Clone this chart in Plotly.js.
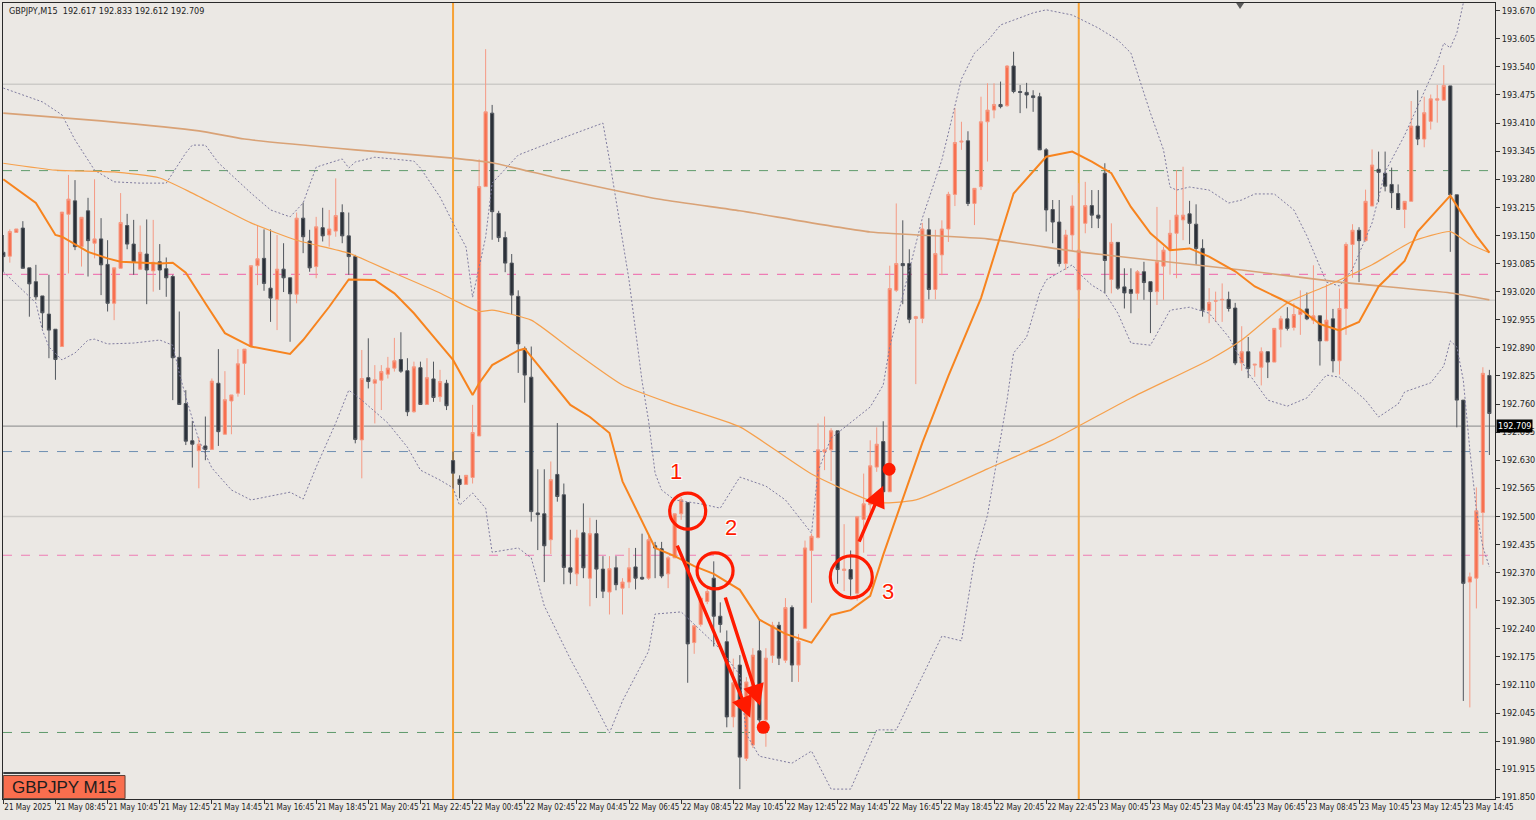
<!DOCTYPE html>
<html><head><meta charset="utf-8">
<script src="https://cdn.plot.ly/plotly-3.0.1.min.js"></script>
<style>html,body{margin:0;padding:0;background:#ebe8e4;overflow:hidden}#chart{width:1536px;height:820px}</style>
</head><body><div id="chart"></div>
<script>
// ---------- DATA ----------
const opens=[193.111,193.102,193.157,193.167,193.075,193.043,193.010,192.968,192.933,192.893,
193.199,193.230,193.124,193.207,193.132,193.142,193.083,192.993,193.074,193.173,
193.130,193.072,193.107,193.068,193.089,193.073,193.055,192.868,192.761,192.675,
192.652,192.663,192.655,192.808,192.690,192.767,192.785,192.854,192.893,193.080,
193.097,193.028,193.002,193.072,193.052,193.014,193.190,193.137,193.078,193.168,
193.151,193.160,193.203,193.149,193.101,192.677,192.821,192.808,192.815,192.829,
192.843,192.863,192.837,192.742,192.844,192.759,192.818,192.777,192.808,192.629,
192.586,192.574,192.590,192.686,193.263,193.433,193.201,193.145,193.086,193.009,
192.888,192.822,192.508,192.506,192.446,192.597,192.550,192.381,192.367,192.462,
192.357,192.460,192.378,192.325,192.381,192.334,192.348,192.383,192.359,192.357,
192.432,192.425,192.367,192.404,192.506,192.532,192.208,192.250,192.303,192.357,
192.269,192.210,192.036,192.156,191.940,191.971,192.189,192.029,192.178,192.248,
192.167,192.289,192.156,192.241,192.421,192.451,192.649,192.654,192.698,192.375,
192.377,192.322,192.493,192.527,192.614,192.673,192.557,193.023,193.085,193.085,
192.958,192.958,193.163,193.025,193.105,193.165,193.245,193.366,193.369,193.224,
193.263,193.413,193.440,193.453,193.450,193.542,193.483,193.481,193.473,193.471,
193.348,193.210,193.181,193.085,193.151,193.024,193.178,193.219,193.197,193.294,
193.048,193.134,193.031,193.025,193.016,193.066,193.043,193.020,193.079,193.116,
193.155,193.186,193.200,193.176,193.120,192.976,192.998,193.001,193.002,192.982,
192.855,192.881,192.850,192.845,192.881,192.857,192.933,192.957,192.937,192.967,
192.980,192.954,192.964,192.906,192.957,192.860,192.981,193.129,193.162,193.138,
193.218,193.303,193.294,193.268,193.247,193.210,193.229,193.403,193.373,193.414,
193.463,193.463,193.496,193.244,192.769,192.348,192.357,192.509,192.826];
const highs=[193.151,193.164,193.165,193.183,193.075,193.082,193.010,193.059,192.933,193.204,
193.290,193.278,193.192,193.237,193.280,193.190,193.139,193.075,193.248,193.200,
193.186,193.173,193.187,193.186,193.130,193.099,193.059,192.974,192.792,192.721,
192.682,192.731,192.819,192.887,192.836,192.781,192.887,192.887,193.080,193.174,
193.164,193.164,193.151,193.132,193.052,193.203,193.226,193.163,193.193,193.214,
193.209,193.282,193.222,193.203,193.105,192.885,192.912,192.850,192.850,192.869,
192.913,192.926,192.866,192.858,192.858,192.866,192.858,192.839,192.816,192.650,
192.595,192.595,192.758,193.326,193.581,193.452,193.207,193.159,193.107,193.023,
192.893,192.893,192.609,192.609,192.627,192.716,192.576,192.469,192.469,192.530,
192.497,192.492,192.408,192.408,192.408,192.357,192.427,192.427,192.460,192.460,
192.441,192.441,192.408,192.506,192.545,192.532,192.247,192.315,192.334,192.396,
192.301,192.236,192.171,192.179,192.128,192.195,192.261,192.195,192.256,192.256,
192.311,192.294,192.228,192.444,192.460,192.715,192.731,192.704,192.698,192.482,
192.421,192.499,192.599,192.676,192.706,192.720,193.080,193.224,193.185,193.118,
192.964,193.179,193.190,193.163,193.185,193.251,193.445,193.413,193.391,193.259,
193.471,193.502,193.502,193.506,193.544,193.575,193.498,193.503,193.486,193.480,
193.352,193.232,193.232,193.163,193.243,193.271,193.274,193.255,193.255,193.317,
193.178,193.134,193.074,193.074,193.070,193.089,193.043,193.216,193.124,193.186,
193.301,193.309,193.230,193.222,193.141,193.028,193.020,193.039,193.020,192.994,
192.940,192.915,192.852,192.891,192.881,192.935,192.964,192.984,192.993,193.023,
193.018,193.081,192.964,193.037,192.980,193.027,193.134,193.176,193.169,193.256,
193.349,193.344,193.344,193.307,193.268,193.229,193.461,193.486,193.471,193.476,
193.498,193.544,193.496,193.244,192.769,192.370,192.567,192.845,192.839];
const lows=[193.066,193.087,193.157,193.074,192.962,193.001,192.935,192.866,192.816,192.893,
193.062,193.116,193.078,193.055,193.097,193.012,192.974,192.954,193.074,193.118,
193.059,193.070,192.991,193.020,193.024,193.008,192.769,192.758,192.665,192.613,
192.565,192.630,192.654,192.663,192.690,192.690,192.777,192.781,192.893,193.035,
193.022,192.950,192.931,193.019,192.904,192.993,193.109,193.066,193.051,193.136,
193.124,193.147,193.132,193.059,192.669,192.588,192.796,192.715,192.746,192.819,
192.835,192.832,192.732,192.740,192.758,192.758,192.765,192.765,192.746,192.565,
192.542,192.573,192.576,192.686,193.263,193.140,193.135,193.065,192.967,192.832,
192.763,192.488,192.422,192.348,192.413,192.534,192.343,192.343,192.339,192.357,
192.292,192.311,192.311,192.273,192.329,192.273,192.334,192.331,192.353,192.353,
192.357,192.357,192.334,192.404,192.492,192.115,192.182,192.245,192.297,192.199,
192.231,192.012,192.012,191.869,191.934,191.964,192.023,191.967,192.161,192.156,
192.161,192.117,192.117,192.239,192.300,192.449,192.607,192.582,192.344,192.327,
192.316,192.305,192.416,192.493,192.603,192.521,192.557,193.019,192.991,192.947,
192.806,192.947,193.002,193.002,193.058,193.135,193.218,193.348,193.218,193.174,
193.255,193.321,193.421,193.444,193.448,193.479,193.433,193.444,193.436,193.348,
193.159,193.132,193.078,193.070,193.116,192.958,193.155,193.167,193.167,193.016,
193.016,193.024,192.981,192.970,193.001,193.001,192.924,192.989,193.001,193.059,
193.051,193.139,193.130,193.082,192.962,192.947,192.950,192.950,192.974,192.850,
192.837,192.820,192.823,192.803,192.820,192.857,192.891,192.930,192.930,192.920,
192.954,192.945,192.849,192.906,192.833,192.828,192.920,193.052,193.042,193.135,
193.218,193.227,193.252,193.213,193.210,193.167,193.229,193.359,193.354,193.395,
193.411,193.463,193.112,192.706,192.073,192.058,192.287,192.388,192.642];
const closes=[193.101,193.159,193.165,193.074,193.038,193.008,192.971,192.931,192.863,193.204,
193.234,193.124,193.192,193.138,193.142,193.082,192.993,193.075,193.180,193.130,
193.089,193.111,193.070,193.088,193.070,193.052,192.867,192.759,192.674,192.667,
192.667,192.655,192.813,192.696,192.770,192.781,192.853,192.887,193.080,193.096,
193.039,193.005,193.072,193.052,193.015,193.190,193.147,193.075,193.170,193.149,
193.165,193.196,193.149,193.101,192.678,192.819,192.812,192.816,192.835,192.843,
192.860,192.836,192.742,192.846,192.759,192.821,192.775,192.812,192.756,192.600,
192.574,192.595,192.694,193.263,193.436,193.205,193.145,193.086,193.012,192.899,
192.827,192.511,192.504,192.432,192.585,192.546,192.382,192.371,192.450,192.381,
192.460,192.378,192.327,192.379,192.342,192.348,192.381,192.357,192.355,192.446,
192.427,192.362,192.404,192.506,192.539,192.205,192.247,192.311,192.326,192.269,
192.250,192.036,192.115,191.943,192.117,192.179,192.029,192.172,192.248,192.172,
192.289,192.156,192.211,192.427,192.454,192.654,192.654,192.698,192.377,192.378,
192.355,192.499,192.529,192.617,192.667,192.557,193.027,193.085,193.080,192.956,
192.962,193.165,193.025,193.108,193.165,193.245,193.365,193.368,193.224,193.259,
193.413,193.440,193.453,193.448,193.542,193.483,193.481,193.475,193.469,193.348,
193.209,193.181,193.085,193.151,193.218,193.116,193.219,193.197,193.190,193.092,
193.134,193.028,193.017,193.016,193.066,193.041,193.020,193.089,193.116,193.155,
193.197,193.197,193.178,193.120,192.977,192.995,192.999,193.002,192.981,192.855,
192.881,192.842,192.852,192.881,192.857,192.935,192.957,192.935,192.967,192.977,
192.957,192.964,192.906,192.954,192.860,192.981,193.129,193.162,193.138,193.229,
193.313,193.296,193.264,193.249,193.210,193.229,193.403,193.373,193.434,193.466,
193.466,193.497,193.244,192.769,192.345,192.360,192.513,192.831,192.738];

// x tick labels (every 8 bars, first bar = 21 May 06:45)
const tickBars=[0,8,16,24,32,40,48,56,64,72,80,88,96,104,112,120,128,136,144,152,160,168,176,184,192,200,208,216,224];
const tickLabels=["21 May 2025","21 May 08:45","21 May 10:45","21 May 12:45","21 May 14:45","21 May 16:45","21 May 18:45","21 May 20:45","21 May 22:45",
"22 May 00:45","22 May 02:45","22 May 04:45","22 May 06:45","22 May 08:45","22 May 10:45","22 May 12:45","22 May 14:45","22 May 16:45","22 May 18:45","22 May 20:45","22 May 22:45",
"23 May 00:45","23 May 02:45","23 May 04:45","23 May 06:45","23 May 08:45","23 May 10:45","23 May 12:45","23 May 14:45"];
const priceTicks=[191.850,191.915,191.980,192.045,192.110,192.175,192.240,192.305,192.370,192.435,192.500,192.565,192.630,192.695,192.760,192.825,192.890,192.955,193.020,193.085,193.150,193.215,193.280,193.345,193.410,193.475,193.540,193.605,193.670];

// moving averages / bands (bar index, price)
const maSlowIdx=[0,15,30,37,54,69,75,85,101,113,133,151,165,176,190,205,222,228];
const maSlowVal=[193.433,193.415,193.392,193.373,193.348,193.329,193.318,193.283,193.233,193.207,193.158,193.142,193.112,193.093,193.070,193.042,193.017,193.001];
const maMidIdx=[0,8,17,24,29,38,45,53,60,67,70,73,75,81,87,95,103,113,124,134,140,151,161,173,185,190,197,203,210,216,222,225,228];
const maMidVal=[193.317,193.301,193.297,193.283,193.248,193.179,193.139,193.109,193.063,193.017,192.994,192.974,192.977,192.954,192.888,192.804,192.758,192.707,192.598,192.532,192.538,192.610,192.677,192.774,192.862,192.908,192.994,193.033,193.082,193.135,193.159,193.130,193.110];
const bbMidIdx=[0,5,8,9,13,16,18,24,26,28,31,34,38,42,44,46,50,53,57,60,63,66,69,72,73,75,79,80,83,87,90,93,95,98,100,103,106,109,113,116,120,124,127,130,133,135,138,141,145,150,155,160,164,167,170,173,176,179,182,185,189,192,196,199,202,205,208,211,215,217,222,226,228];
const bbMidVal=[193.280,193.225,193.151,193.147,193.112,193.097,193.089,193.085,193.087,193.064,192.993,192.924,192.893,192.881,192.876,192.908,192.985,193.048,193.047,193.016,192.970,192.916,192.862,192.781,192.808,192.850,192.884,192.888,192.832,192.758,192.730,192.693,192.581,192.488,192.427,192.408,192.385,192.367,192.330,192.261,192.228,192.208,192.272,192.283,192.316,192.411,192.538,192.670,192.825,193.005,193.247,193.332,193.344,193.321,193.294,193.216,193.155,193.116,193.120,193.101,193.067,193.032,193.003,192.979,192.945,192.930,192.950,193.032,193.091,193.159,193.242,193.149,193.110];
const bbUpIdx=[0,3,6,9,11,14,17,21,25,28,29,31,33,38,41,44,46,48,52,53,54,57,63,64,67,69,71,72,74,75,79,85,90,92,93,96,98,99,100,101,103,107,110,113,117,120,124,125,127,133,135,136,139,141,144,147,149,151,153,158,160,164,168,171,173,174,176,178,179,180,182,185,188,190,192,195,198,200,203,205,207,210,212,215,218,220,221,222,223,224,226,228];
const bbUpVal=[193.491,193.475,193.459,193.429,193.371,193.301,193.274,193.271,193.271,193.341,193.359,193.359,193.318,193.248,193.209,193.193,193.225,193.308,193.327,193.306,193.320,193.331,193.322,193.306,193.239,193.179,193.123,193.007,193.146,193.271,193.336,193.371,193.399,193.410,193.325,193.047,192.813,192.721,192.600,192.561,192.538,192.529,192.519,192.591,192.570,192.538,192.461,192.605,192.681,192.753,192.804,192.892,193.070,193.190,193.325,193.512,193.572,193.600,193.637,193.665,193.672,193.660,193.630,193.602,193.572,193.526,193.433,193.348,193.262,193.255,193.262,193.255,193.225,193.232,193.246,193.246,193.209,193.149,193.042,193.033,193.072,193.179,193.297,193.382,193.482,193.549,193.595,193.584,193.618,193.688,193.753,193.810];
const bbLowIdx=[0,3,5,6,7,9,11,13,14,16,20,24,26,27,28,30,32,35,38,44,46,48,51,53,55,59,62,64,67,69,70,72,74,75,79,81,83,87,90,93,95,99,100,104,107,110,113,114,116,121,124,127,130,134,137,141,144,147,149,151,154,155,157,159,160,164,165,167,169,171,173,176,179,182,185,188,191,194,197,200,203,205,209,211,214,215,219,221,222,223,224,225,226,227,228];
const bbLowVal=[193.066,193.024,192.994,192.931,192.892,192.862,192.878,192.908,192.910,192.899,192.901,192.908,192.896,192.832,192.776,192.677,192.612,192.561,192.538,192.556,192.540,192.614,192.716,192.792,192.769,192.716,192.660,192.607,192.584,192.566,192.526,192.554,192.519,192.417,192.427,192.404,192.293,192.170,192.087,191.999,192.073,192.188,192.274,192.279,192.235,192.193,192.133,191.996,191.945,191.929,191.957,191.869,191.869,192.006,192.006,192.128,192.223,192.212,192.399,192.503,192.769,192.878,192.915,193.017,193.047,193.082,193.063,193.035,193.017,192.970,192.901,192.896,192.977,192.984,192.970,192.915,192.832,192.769,192.755,192.774,192.827,192.822,192.769,192.730,192.760,192.788,192.809,192.848,192.906,192.892,192.815,192.654,192.515,192.429,192.383];

// horizontal levels
const solidLevels=[193.500,193.000,192.500];
const greenLevels=[193.300,192.000];
const pinkLevels=[193.060,192.410];
const blueLevels=[192.650];
const lastPrice=192.709;
const daySeparators=[69,165];

// ---------- CHART ----------
const idx=opens.map((_,i)=>i);
const narrow='Liberation Sans Narrow, Arial Narrow, DejaVu Sans Condensed, Liberation Sans, sans-serif';
const bbLine={color:'#7f7b9f',width:1,dash:'2px,2px'};
const traces=[
 {type:'candlestick',x:idx,open:opens,high:highs,low:lows,close:closes,whiskerwidth:0,hoverinfo:'skip',
  increasing:{line:{color:'#f59a84',width:1},fillcolor:'#f7704f'},
  decreasing:{line:{color:'#50555c',width:1},fillcolor:'#2b3038'},showlegend:false},
 {type:'scatter',mode:'lines',x:bbUpIdx,y:bbUpVal,line:bbLine,hoverinfo:'skip',showlegend:false},
 {type:'scatter',mode:'lines',x:bbLowIdx,y:bbLowVal,line:bbLine,hoverinfo:'skip',showlegend:false},
 {type:'scatter',mode:'lines',x:maSlowIdx,y:maSlowVal,line:{color:'#d9a276',width:1.6,shape:'spline',smoothing:0.5},hoverinfo:'skip',showlegend:false},
 {type:'scatter',mode:'lines',x:maMidIdx,y:maMidVal,line:{color:'#f6a04c',width:1.2,shape:'spline',smoothing:0.5},hoverinfo:'skip',showlegend:false},
 {type:'scatter',mode:'lines',x:bbMidIdx,y:bbMidVal,line:{color:'#f7841f',width:2},hoverinfo:'skip',showlegend:false}
];

const shapes=[];
solidLevels.forEach(p=>shapes.push({type:'line',xref:'paper',x0:0,x1:1,yref:'y',y0:p,y1:p,layer:'below',line:{color:'#cdcbc8',width:1.5}}));
greenLevels.forEach(p=>shapes.push({type:'line',xref:'paper',x0:0,x1:1,yref:'y',y0:p,y1:p,layer:'below',line:{color:'#5f9a6b',width:1,dash:'dash'}}));
pinkLevels.forEach(p=>shapes.push({type:'line',xref:'paper',x0:0,x1:1,yref:'y',y0:p,y1:p,layer:'below',line:{color:'#ee7cb4',width:1.1,dash:'dash'}}));
blueLevels.forEach(p=>shapes.push({type:'line',xref:'paper',x0:0,x1:1,yref:'y',y0:p,y1:p,layer:'below',line:{color:'#6f8fb2',width:1,dash:'dash'}}));
shapes.push({type:'line',xref:'paper',x0:0,x1:1,yref:'y',y0:lastPrice,y1:lastPrice,layer:'below',line:{color:'#9a9a9a',width:1.2}});
daySeparators.forEach(b=>shapes.push({type:'line',xref:'x',x0:b,x1:b,yref:'paper',y0:0,y1:1,layer:'below',line:{color:'#f6a236',width:2}}));

const red='#ff1a00';
const circle=(cx,cy,r)=>({type:'circle',xref:'x',yref:'y',xsizemode:'pixel',ysizemode:'pixel',xanchor:cx,yanchor:cy,x0:-r,x1:r,y0:-r,y1:r,line:{color:red,width:3.2}});
const dot=(cx,cy,r)=>({type:'circle',xref:'x',yref:'y',xsizemode:'pixel',ysizemode:'pixel',xanchor:cx,yanchor:cy,x0:-r,x1:r,y0:-r,y1:r,fillcolor:red,line:{width:0}});
shapes.push(circle(105,192.512,18),circle(109.2,192.374,18),circle(130.1,192.360,21));
shapes.push(dot(116.6,192.012,6.5),dot(135.9,192.609,6.5));
// bottom-left symbol box
shapes.push({type:'rect',xref:'paper',yref:'paper',x0:0.0002,x1:0.0785,y0:0.0315,y1:0.034,fillcolor:'#3a3d40',line:{width:0}});
shapes.push({type:'rect',xref:'paper',yref:'paper',x0:0.0002,x1:0.0818,y0:0.0005,y1:0.0295,fillcolor:'#f96e4e',line:{color:'#5a4038',width:1}});
// chart-shift marker
shapes.push({type:'path',xref:'paper',yref:'paper',path:'M 0.8265 1 L 0.8318 1 L 0.8291 0.9925 Z',fillcolor:'#5a5a5a',line:{width:0}});

const arrow=(hx,hy,tx,ty)=>({x:hx,y:hy,ax:tx,ay:ty,xref:'x',yref:'y',axref:'x',ayref:'y',text:'',showarrow:true,arrowhead:2,arrowsize:1.25,arrowwidth:3.4,arrowcolor:red,standoff:0});
const lbl=(t,x,y)=>({x:x,y:y,xref:'x',yref:'y',text:t,showarrow:false,font:{family:'Liberation Sans, Arial, sans-serif',size:22,color:red,shadow:'1px 1px 0 #fff, -1px -1px 0 #fff, 1px -1px 0 #fff, -1px 1px 0 #fff'}});
const annotations=[
 arrow(114.6,192.034,103.3,192.436),
 arrow(116.1,192.062,110.7,192.316),
 arrow(135.0,192.571,131.2,192.438),
 lbl('1',103.2,192.603),lbl('2',111.6,192.474),lbl('3',135.7,192.327),
 {xref:'paper',yref:'paper',x:0,y:1,xanchor:'left',yanchor:'top',xshift:4,yshift:-1,showarrow:false,
  text:'GBPJPY,M15\u00a0\u00a0192.617 192.833 192.612 192.709',font:{family:narrow,size:9,color:'#222'}},
 {xref:'paper',yref:'y',x:1,y:lastPrice,xanchor:'left',xshift:1,showarrow:false,text:'192.709',bgcolor:'#000000',borderpad:1,font:{family:narrow,size:9,color:'#ffffff'}},
 {xref:'paper',yref:'paper',x:0.041,y:0.0148,xanchor:'center',yanchor:'middle',showarrow:false,text:'GBPJPY M15',font:{family:'Liberation Sans, Arial, sans-serif',size:17,color:'#1d1d1d'}}
];

const layout={
 width:1536,height:820,
 margin:{l:3,r:41,t:3,b:21,pad:0},
 paper_bgcolor:'#ebe8e4',plot_bgcolor:'#ebe8e4',
 font:{family:narrow,size:9,color:'#222'},
 showlegend:false,
 xaxis:{type:'linear',range:[-0.046,228.86],rangeslider:{visible:false},showgrid:false,zeroline:false,
  tickmode:'array',tickvals:tickBars,ticktext:tickLabels,ticks:'outside',ticklen:4,tickcolor:'#333',
  tickangle:0,ticklabelposition:'outside right',tickfont:{family:narrow,size:8,color:'#222'},
  showline:true,linecolor:'#2a2a2a',linewidth:1,mirror:true,fixedrange:true},
 yaxis:{side:'right',range:[191.8461,193.6878],showgrid:false,zeroline:false,
  tickmode:'array',tickvals:priceTicks,ticktext:priceTicks.map(v=>v.toFixed(3)),ticks:'outside',ticklen:4,tickcolor:'#333',
  tickfont:{family:narrow,size:9,color:'#222'},
  showline:true,linecolor:'#2a2a2a',linewidth:1,mirror:true,fixedrange:true},
 boxgap:0.3,boxgroupgap:0.3,
 shapes:shapes,annotations:annotations,hovermode:false
};
Plotly.newPlot('chart',traces,layout,{staticPlot:true,displayModeBar:false});
</script></body></html>
